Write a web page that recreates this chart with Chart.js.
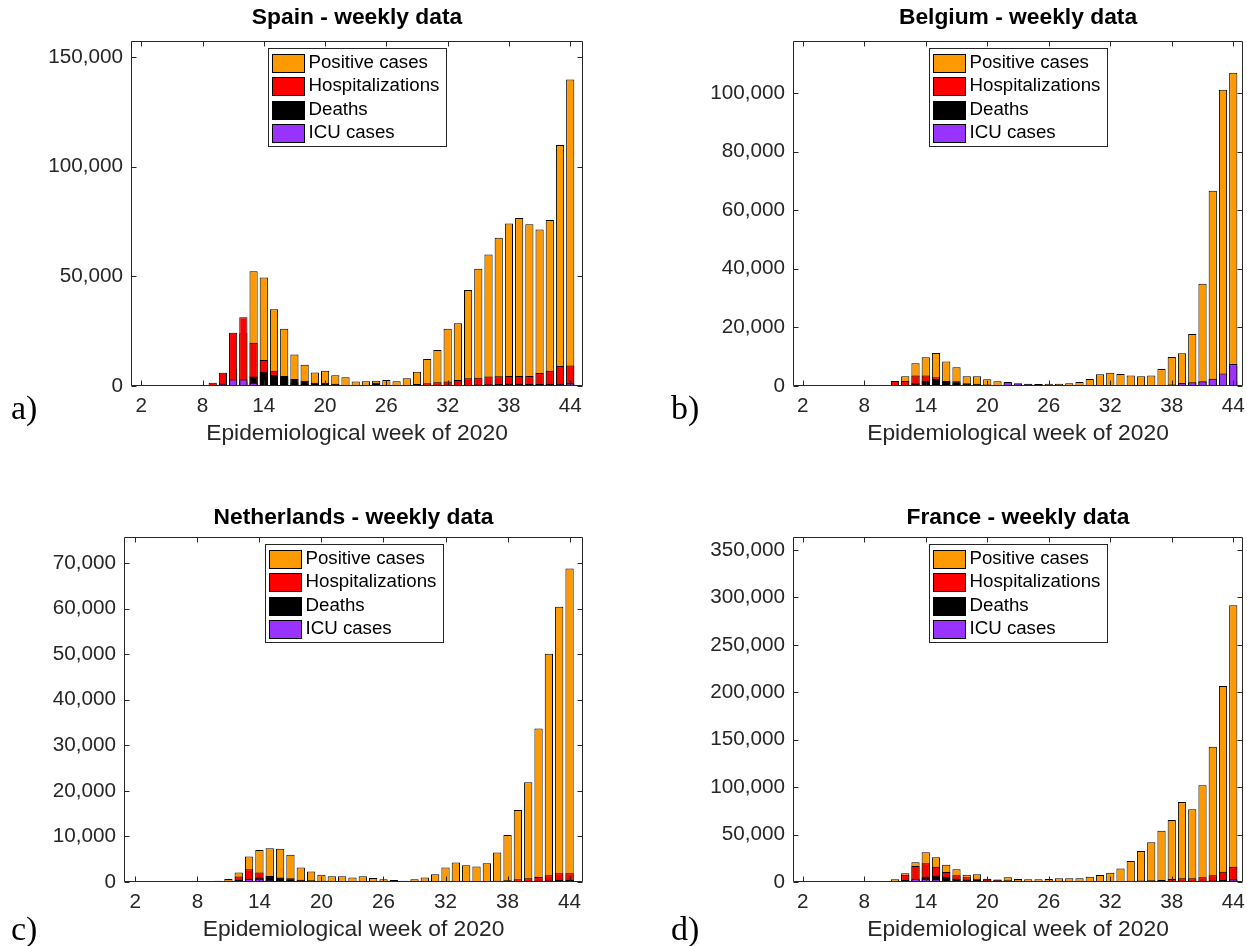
<!DOCTYPE html>
<html><head><meta charset="utf-8">
<script src="https://cdn.jsdelivr.net/npm/chart.js@4.4.1/dist/chart.umd.min.js"></script>
<style>
html,body{margin:0;padding:0;background:#fff;}
body{width:1247px;height:946px;overflow:hidden;position:relative;}
canvas{position:absolute;}
.tag{position:absolute;font-family:"Liberation Serif","Times New Roman",serif;font-size:34px;color:#000;line-height:1;}
</style></head><body>
<canvas id="cA"></canvas>
<canvas id="cB"></canvas>
<canvas id="cC"></canvas>
<canvas id="cD"></canvas>
<div class="tag" style="left:11px;top:391px">a)</div>
<div class="tag" style="left:671px;top:391px">b)</div>
<div class="tag" style="left:11px;top:912px">c)</div>
<div class="tag" style="left:671px;top:912px">d)</div>
<script>
// ---------------- DATA ----------------
const weeks = [1,2,3,4,5,6,7,8,9,10,11,12,13,14,15,16,17,18,19,20,21,22,23,24,25,26,27,28,29,30,31,32,33,34,35,36,37,38,39,40,41,42,43,44];
const xTicks = [2,8,14,20,26,32,38,44];
const seriesLabels = ['Positive cases','Hospitalizations','Deaths','ICU cases'];
const xTitle = 'Epidemiological week of 2020';

const spainTitle = 'Spain - weekly data';
const spainYTicks = [0,50000,100000,150000];
const spainPositive = [0,0,0,0,0,0,0,0,300,1600,8000,24000,52300,49500,35000,26100,14400,9700,6200,7000,4900,4000,2100,2200,2400,2700,2200,3500,6500,12300,16400,26100,28600,43800,53500,60000,67600,74100,76600,73800,71400,75700,109900,139800];
const spainHosp = [0,0,0,0,0,0,0,0,1500,6000,24300,31300,19700,11800,7000,3500,1500,900,600,500,400,300,250,250,250,300,400,500,900,1300,1700,2100,2700,3500,3800,4300,4500,4600,4600,4600,5900,7000,9100,9300];
const spainDeaths = [0,0,0,0,0,0,0,0,50,300,500,2000,4300,6500,5000,4600,3200,2400,1500,1500,1000,500,300,200,1500,150,100,100,100,150,200,300,400,500,700,800,900,1000,1000,900,900,1000,800,900];
const spainICU = [0,0,0,0,0,0,0,0,100,1000,3000,3000,1500,400,200,100,80,60,40,30,30,20,20,20,20,20,20,30,50,80,100,150,200,250,300,350,400,400,400,400,500,700,1000,1200];

const belgiumTitle = 'Belgium - weekly data';
const belgiumYTicks = [0,20000,40000,60000,80000,100000];
const belgiumPositive = [0,0,0,0,0,0,0,0,0,200,1200,3300,7800,9800,11300,8400,6400,3300,3300,2300,1600,1200,700,600,650,800,800,900,1400,2400,4000,4500,4100,3600,3300,3600,5800,9900,11200,17700,34900,66600,101100,106900];
const belgiumHosp = [0,0,0,0,0,0,0,0,0,100,1700,1700,3600,3600,3000,1500,900,600,400,300,200,150,100,80,80,80,100,120,150,200,250,250,250,200,200,250,300,450,800,1100,1400,2200,3900,6800];
const belgiumDeaths = [0,0,0,0,0,0,0,0,0,0,100,300,900,1700,2400,1700,1600,900,800,500,250,150,100,80,300,50,40,30,30,30,40,50,60,60,50,60,80,100,150,200,300,500,900,1500];
const belgiumICU = [0,0,0,0,0,0,0,0,0,0,0,50,100,100,100,50,30,20,10,10,10,1400,900,800,700,100,80,60,60,80,100,120,120,100,100,120,300,500,1000,1300,1600,2500,4300,7500];

const nlTitle = 'Netherlands - weekly data';
const nlYTicks = [0,10000,20000,30000,40000,50000,60000,70000];
const nlPositive = [0,0,0,0,0,0,0,0,0,300,650,2100,5600,7000,7400,7300,6000,3200,2300,1600,1250,1250,1000,1250,900,600,450,300,600,1000,1700,3200,4300,3700,3400,4100,6500,10300,15800,21900,33700,50100,60400,68800];
const nlHosp = [0,0,0,0,0,0,0,0,0,50,300,1200,2800,2100,1300,800,400,200,100,80,50,40,30,30,20,20,20,20,20,30,40,60,80,90,90,150,250,400,600,800,1100,1500,1900,1900];
const nlDeaths = [0,0,0,0,0,0,0,0,0,20,60,200,500,1000,1200,1000,800,500,400,250,150,100,60,40,30,20,15,10,10,10,15,20,30,30,40,50,80,120,150,200,250,350,450,500];
const nlICU = [0,0,0,0,0,0,0,0,0,10,50,450,650,700,500,300,150,100,50,30,20,15,10,10,10,5,5,5,5,10,10,20,30,40,40,50,70,100,150,200,250,300,350,400];

const frTitle = 'France - weekly data';
const frYTicks = [0,50000,100000,150000,200000,250000,300000,350000];
const frPositive = [0,0,0,0,0,0,0,0,0,300,2800,9100,20800,31300,26000,18300,13400,7700,8100,3300,2600,4900,3200,2800,2800,3200,3900,3900,3900,5600,7400,9800,14100,22100,32700,41800,54100,65400,84300,76600,101900,142600,206600,291700];
const frHosp = [0,0,0,0,0,0,0,0,0,100,500,7700,16900,19700,16100,10500,7000,4900,3500,3000,2300,1800,1200,900,700,600,500,500,500,500,600,800,1000,1200,1500,1800,2100,3200,3900,3900,4900,7000,10900,16100];
const frDeaths = [0,0,0,0,0,0,0,0,0,10,100,900,2500,5000,6600,5600,3500,2500,2100,1500,1100,700,500,400,350,300,250,250,250,250,300,350,400,450,500,600,700,900,1000,1100,1300,1600,2000,2500];
const frICU = [0,0,0,0,0,0,0,0,0,0,300,2100,3500,3500,2800,1000,500,300,200,150,100,80,60,50,50,50,50,50,60,80,100,120,150,180,200,250,350,500,600,600,800,1100,1500,2800];

// ---------------- STYLE ----------------
const FONT = '"Liberation Sans", Arial, Helvetica, sans-serif';
const AXIS = '#262626';
const COLORS = ['#FF9900','#FF0000','#000000','#9933FF'];
const TL = 5;

function fmt(v){ return String(v).replace(/\B(?=(\d{3})+(?!\d))/g, ','); }

function panelPlugin(p){
  return {
    id: 'panelDecor',
    afterDraw(chart){
      const ctx = chart.ctx, a = chart.chartArea, xs = chart.scales.x, ys = chart.scales.y;
      ctx.save();
      ctx.strokeStyle = AXIS; ctx.lineWidth = 1;
      const L = a.left + 0.5, R = a.right - 0.5, T = a.top + 0.5, B = a.bottom - 0.5;
      ctx.beginPath();
      ctx.rect(L, T, R - L, B - T);
      xs.ticks.forEach(t => {
        const px = Math.round(xs.getPixelForValue(t.value)) + 0.5;
        ctx.moveTo(px, B); ctx.lineTo(px, B - TL);
        ctx.moveTo(px, T); ctx.lineTo(px, T + TL);
      });
      ys.ticks.forEach(t => {
        const py = Math.round(ys.getPixelForValue(t.value)) + 0.5;
        ctx.moveTo(L, py); ctx.lineTo(L + TL, py);
        ctx.moveTo(R, py); ctx.lineTo(R - TL, py);
      });
      ctx.stroke();
      // title
      ctx.fillStyle = '#000';
      ctx.font = 'bold 22.8px ' + FONT;
      ctx.textAlign = 'center'; ctx.textBaseline = 'middle';
      ctx.fillText(p.title, (a.left + a.right) / 2, p.titleY);
      // legend
      const ds = chart.data.datasets;
      ctx.font = '18.7px ' + FONT;
      const tw = Math.max.apply(null, ds.map(d => ctx.measureText(d.label).width));
      const bw = Math.round(40 + tw + 7), bh = 98;
      const bx = Math.round((a.left + a.right) / 2 - bw / 2) + 0.5, by = a.top + 7.5;
      ctx.fillStyle = '#fff'; ctx.fillRect(bx, by, bw, bh);
      ctx.strokeStyle = AXIS; ctx.strokeRect(bx, by, bw, bh);
      ds.forEach((d, i) => {
        const cy = by + 14 + i * 23.5;
        ctx.fillStyle = d.backgroundColor;
        ctx.fillRect(bx + 4, Math.round(cy - 9) + 0.5, 32, 18);
        ctx.strokeStyle = '#000';
        ctx.strokeRect(bx + 4, Math.round(cy - 9) + 0.5, 32, 18);
        ctx.fillStyle = '#000'; ctx.textAlign = 'left'; ctx.textBaseline = 'middle';
        ctx.fillText(d.label, bx + 40, cy);
      });
      ctx.restore();
    }
  };
}

function makeChart(id, p, series){
  const canvas = document.getElementById(id);
  canvas.width = p.w; canvas.height = 473;
  canvas.style.left = p.left + 'px'; canvas.style.top = p.top + 'px';
  canvas.style.width = p.w + 'px'; canvas.style.height = '473px';
  const datasets = series.map((vals, i) => ({
    label: seriesLabels[i],
    data: weeks.map((w, k) => ({x: w, y: vals[k]})),
    backgroundColor: COLORS[i],
    borderColor: '#000',
    borderWidth: 1,
    borderSkipped: false,
    order: series.length - i,
    grouped: false,
    categoryPercentage: 1,
    barPercentage: 0.8
  }));
  new Chart(canvas, {
    type: 'bar',
    data: {datasets},
    options: {
      responsive: false, animation: false, devicePixelRatio: 1,
      layout: {padding: {left: 0, top: 41, right: p.padRight, bottom: 0}},
      plugins: {legend: {display: false}, tooltip: {enabled: false}, title: {display: false}},
      scales: {
        x: {
          type: 'linear', min: p.xMin, max: p.xMax, offset: false,
          grid: {display: false, drawTicks: false}, border: {display: false},
          ticks: {padding: 8, font: {size: 20.7, family: FONT}, color: AXIS, maxRotation: 0, autoSkip: false, callback: v => String(v)},
          afterBuildTicks: s => { s.ticks = xTicks.map(v => ({value: v})); },
          afterFit: s => { s.height = 87; },
          title: {display: true, text: xTitle, font: {size: 22.8, family: FONT, lineHeight: 1.2}, color: AXIS, padding: {top: 0, bottom: 25.3}}
        },
        y: {
          type: 'linear', min: 0, max: p.yMax,
          grid: {display: false, drawTicks: false}, border: {display: false},
          ticks: {padding: 8, font: {size: 20.7, family: FONT}, color: AXIS, callback: v => fmt(v)},
          afterBuildTicks: s => { s.ticks = p.yTicks.map(v => ({value: v})); },
          afterFit: s => { s.width = p.yAxisW; }
        }
      }
    },
    plugins: [panelPlugin(p)]
  });
}

makeChart('cA', {left:0, top:0, w:624, yAxisW:131, padRight:41, xMin:1.0, xMax:45.25, yMax:157300, yTicks:spainYTicks, title:spainTitle, titleY:18},
  [spainPositive, spainHosp, spainDeaths, spainICU]);
makeChart('cB', {left:624, top:0, w:643, yAxisW:169, padRight:24, xMin:1.05, xMax:44.95, yMax:117700, yTicks:belgiumYTicks, title:belgiumTitle, titleY:18},
  [belgiumPositive, belgiumHosp, belgiumDeaths, belgiumICU]);
makeChart('cC', {left:0, top:496, w:624, yAxisW:124, padRight:41, xMin:0.9, xMax:45.3, yMax:75700, yTicks:nlYTicks, title:nlTitle, titleY:22},
  [nlPositive, nlHosp, nlDeaths, nlICU]);
makeChart('cD', {left:624, top:496, w:643, yAxisW:169, padRight:24, xMin:1.05, xMax:44.95, yMax:363700, yTicks:frYTicks, title:frTitle, titleY:22},
  [frPositive, frHosp, frDeaths, frICU]);
</script>
</body></html>
